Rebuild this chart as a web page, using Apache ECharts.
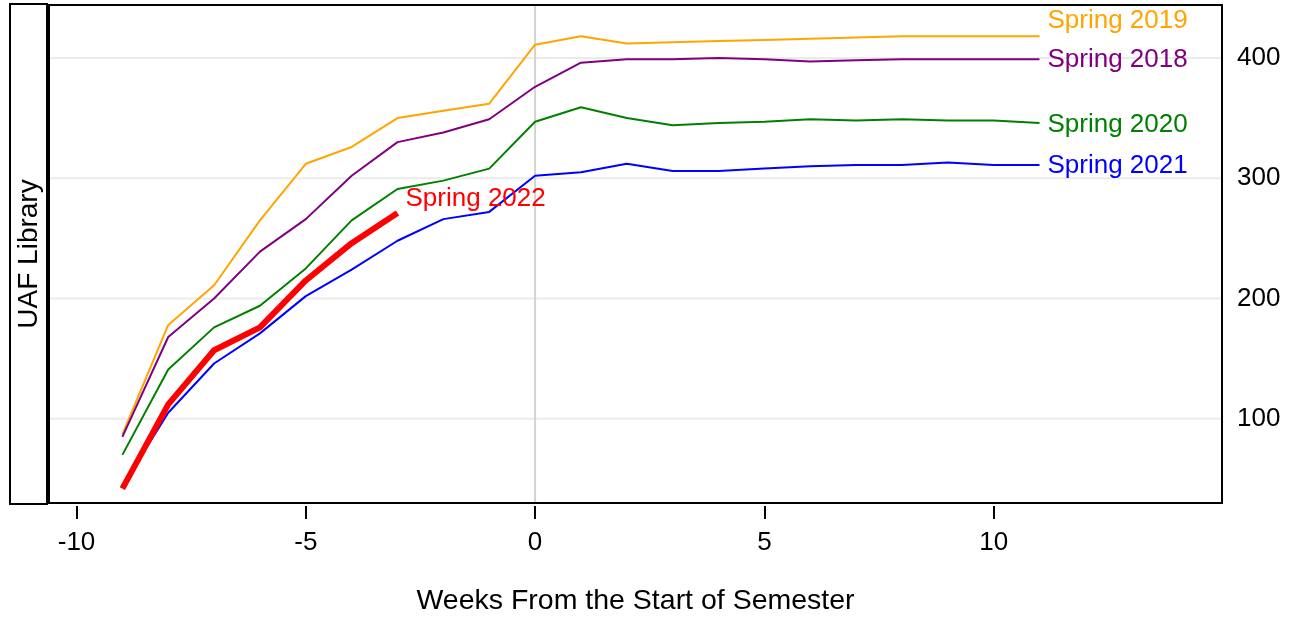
<!DOCTYPE html>
<html>
<head>
<meta charset="utf-8">
<script src="https://cdn.jsdelivr.net/npm/echarts@6/dist/echarts.min.js"></script>
<style>html,body{margin:0;padding:0;background:#fff}#c{width:1291px;height:619px}</style>
</head>
<body>
<div id="c"></div>
<script>
const weeks = [-9,-8,-7,-6,-5,-4,-3,-2,-1,0,1,2,3,4,5,6,7,8,9,10,11];
const weeks2022 = [-9,-8,-7,-6,-5,-4,-3];
const spring2018 = [85,168,200,239,266,302,330,338,349,376,396,399,399,400,399,397,398,399,399,399,399];
const spring2019 = [87,178,211,265,312,326,350,356,362,411,418,412,413,414,415,416,417,418,418,418,418];
const spring2020 = [70,141,176,194,225,265,291,298,308,347,359,350,344,346,347,349,348,349,348,348,346];
const spring2021 = [44,105,146,171,202,224,248,266,272,302,305,312,306,306,308,310,311,311,313,311,311];
const spring2022 = [42,112,157,176,215,246,271];
const xTicks = [-10,-5,0,5,10];
const yTicks = [100,200,300,400];
const semesterStart = 0;
const stripLabel = 'UAF Library';
const xTitle = 'Weeks From the Start of Semester';

const X_MIN = -10.6, X_MAX = 14.98, Y_MIN = 30, Y_MAX = 444;
const FONT = 'Liberation Sans';
function pairs(xs, ys){ return xs.map((x,i)=>[x, ys[i]]); }
function mkSeries(name, xs, ys, color, width, dy, z){
  return {
    name: name, type: 'line', data: pairs(xs, ys), showSymbol: false,
    lineStyle: {color: color, width: width}, itemStyle: {color: color}, z: z,
    silent: true, animation: false, emphasis: {disabled: true},
    endLabel: {show: true, formatter: name, color: color, fontFamily: FONT, fontSize: 26,
      distance: 8, offset: [0, dy]}
  };
}
function refLine(data, color){
  return {type: 'line', data: data, showSymbol: false, silent: true, animation: false, z: 1,
    emphasis: {disabled: true}, lineStyle: {color: color, width: 2}};
}
const chart = echarts.init(document.getElementById('c'), null, {renderer: 'canvas'});
const series = []
  .concat(yTicks.map(v => refLine([[X_MIN, v], [X_MAX, v]], '#ebebeb')))
  .concat([refLine([[semesterStart, Y_MIN], [semesterStart, Y_MAX]], '#d3d3d3')])
  .concat([
    mkSeries('Spring 2019', weeks, spring2019, '#FFA500', 2, -15, 3),
    mkSeries('Spring 2018', weeks, spring2018, '#800080', 2, 1, 3),
    mkSeries('Spring 2020', weeks, spring2020, '#008000', 2, 2, 3),
    mkSeries('Spring 2021', weeks, spring2021, '#0000FF', 2, 1, 3),
    mkSeries('Spring 2022', weeks2022, spring2022, '#FF0000', 6, -14, 5)
  ]);
chart.setOption({
  animation: false,
  grid: {left: 49, right: 69, top: 5, bottom: 116, outerBoundsMode: 'none', containLabel: false,
    show: true, borderColor: '#000', borderWidth: 2, backgroundColor: 'transparent', z: 10},
  xAxis: {
    type: 'value', min: X_MIN, max: X_MAX,
    axisLine: {show: false},
    offset: 3,
    axisTick: {show: true, length: 13, lineStyle: {color: '#000', width: 2}, customValues: xTicks},
    axisLabel: {customValues: xTicks, color: '#000', fontFamily: FONT, fontSize: 26, margin: 24},
    splitLine: {show: false},
    name: xTitle, nameLocation: 'middle', nameGap: 81,
    nameTextStyle: {color: '#000', fontFamily: FONT, fontSize: 28.5}
  },
  yAxis: {
    type: 'value', position: 'right', min: Y_MIN, max: Y_MAX,
    axisLine: {show: false}, axisTick: {show: false},
    axisLabel: {customValues: yTicks, color: '#000', fontFamily: FONT, fontSize: 26, margin: 15},
    splitLine: {show: false}
  },
  graphic: [
    {type: 'rect', shape: {x: 10, y: 4, width: 37, height: 500}, style: {fill: '#fff', stroke: '#000', lineWidth: 2}, z: 10},
    {type: 'text', x: 29, y: 254, rotation: Math.PI/2, z: 11,
      style: {text: stripLabel, fill: '#000', font: '28px "' + FONT + '"', align: 'center', verticalAlign: 'middle'}}
  ],
  series: series
});
</script>
</body>
</html>
